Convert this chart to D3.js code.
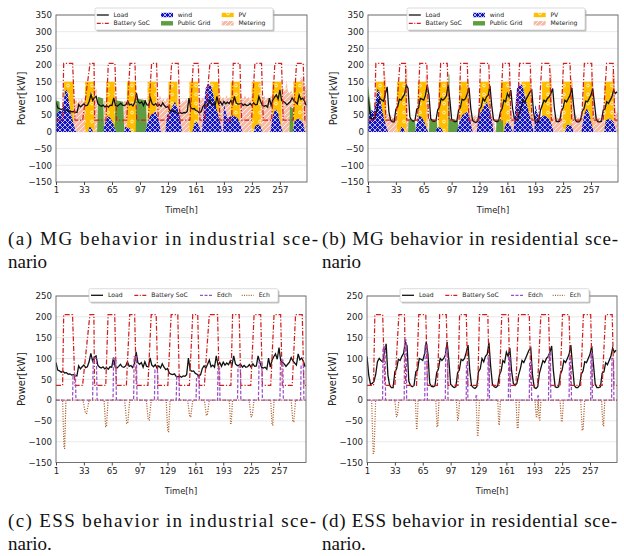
<!DOCTYPE html>
<html>
<head>
<meta charset="utf-8">
<script src="https://cdn.jsdelivr.net/npm/d3@7"></script>
<style>
  body { margin: 0; background: #fff; }
  svg { display: block; }
</style>
</head>
<body>
<div id="chart"></div>
<script>
// ---- data ----
// loads sampled every 2 hours: hour 1, 3, 5, ... 287
const loadIndustrial = [
  90,72,70,67,69,65,66,62,63,60,61,59,
  58,82,75,80,84,78,80,92,112,94,103,106,
  84,79,77,80,75,78,74,80,79,102,79,77,
  81,86,80,79,82,92,81,83,78,88,116,90,
  86,90,79,92,81,80,101,84,80,85,77,82,
  77,87,79,73,76,65,62,61,63,57,56,58,
  55,58,57,61,101,72,69,70,64,62,57,61,
  76,82,77,86,96,80,84,79,106,84,90,81,
  91,84,89,85,94,83,106,87,83,84,86,79,
  83,79,80,85,79,87,81,82,106,91,79,77,
  79,74,101,79,96,104,111,98,126,94,91,87,
  81,86,91,102,94,89,84,111,97,101,93,80
];
const loadResidential = [
  105,60,38,40,45,62,92,100,95,92,115,135,
  60,35,30,30,68,75,98,95,105,112,140,130,
  45,35,32,35,68,72,100,98,95,110,140,110,
  40,33,32,34,66,75,100,95,100,108,140,95,
  38,33,30,32,65,72,98,95,100,115,132,70,
  35,30,28,32,68,75,100,92,105,110,138,80,
  38,32,30,34,60,70,95,90,115,105,125,70,
  40,35,40,60,75,95,90,100,110,120,125,60,
  30,28,32,65,80,95,90,100,105,115,130,70,
  32,30,32,62,72,95,90,100,110,132,80,35,
  30,30,35,62,70,92,90,100,110,130,85,38,
  30,30,32,65,68,90,85,95,105,125,115,120
];

// battery SoC per day: [rise start, rise end, fall start, fall end] (hours), low 35 / high 205 kW
const socLow = 35, socHigh = 205;
const socIndustrial = [
  [8.6,9.8,20,22.7],[31.5,39.9,44.5,45.2],[58.1,60.8,68.4,70.3],[81.8,85.6,91.3,93.2],
  [106.5,110.3,116,118],[129.4,133.2,140.8,142.7],[154.1,158,163.7,165.6],[171.3,177,186.5,188.4],
  [201.8,203.7,211.3,213.2],[224.6,228.4,236,238],[247.5,251.3,258.9,260.8],[272.2,276,283.7,285.6]
];
const socResidential = [
  [8.5,10,19,21.5],[33,37.6,44,45.5],[57.8,60.4,68.5,70.5],[81.8,84.4,92,94],
  [105.4,107.3,115,116.8],[128.2,130.1,139.7,141.6],[153,155.7,163.3,165.2],[172,175,187.3,189.2],
  [196.8,200.6,209.5,211.5],[222.7,225.4,233,234.9],[246.3,249.4,257.8,259.7],[271,274.9,282.5,284.4]
];

// PV blocks [start, end] at 150 kW (same in both scenarios)
const pvCap = 150;
const pvBlocks = [
  [10,21.2],[34,45],[58,68.5],[82,92.5],[105.5,116],[129.5,140],
  [153.3,163.6],[177,187.7],[200.6,211.3],[224.6,235.3],[248.2,258.9],[272.2,282.9]
];

// wind [hour, kW]
const wind = [
  [1,0],[2,55],[5,65],[8,62],[10,95],[12,130],[14,120],[16,85],[18,55],[20,35],[22,15],[24,0],
  [38,0],[39,15],[42,12],[43,0],
  [55,0],[57,25],[60,48],[63,42],[66,28],[68,12],[70,0],
  [79,0],[80,15],[85,12],[87,0],
  [103,0],[106,30],[109,50],[112,55],[115,60],[118,40],[121,0],
  [126,0],[128,50],[131,60],[134,75],[137,90],[140,70],[143,40],[145,0],
  [157,0],[159,25],[162,30],[165,15],[167,0],
  [168,0],[170,70],[172,130],[175,145],[178,140],[181,110],[184,75],[187,45],[189,25],[191,0],
  [192,0],[193,85],[195,60],[197,40],[200,45],[203,50],[206,45],[209,40],[212,20],[214,0],
  [227,0],[229,20],[234,22],[237,0],
  [246,0],[249,50],[252,70],[255,55],[258,20],[260,0],
  [272,0],[274,35],[279,40],[283,30],[286,0],[288,0]
];

// public grid [hour, kW]
const gridIndustrial = [
  [1,95],[5,90],[6,0],
  [48,0],[49,105],[55,100],[56,0],
  [68,0],[69,95],[78,90],[79,0],
  [92,0],[93,100],[104,95],[105,0],
  [268,0],[268.5,75],[272,70],[272.5,0],[288,0]
];
const gridResidential = [
  [1,140],[3,100],[5,60],[6,0],
  [47,0],[47.5,40],[55,35],[56,0],
  [71,0],[71.5,40],[80,35],[81,0],
  [93,0],[93.5,175],[94.5,170],[95,40],[104,35],[105,0],
  [148,0],[148.5,35],[156,35],[156.5,0],[288,0]
];

// metering [hour, kW]
const meterIndustrial = [
  [1,0],[21,0],[21.2,100],[23,92],[24,98],[26,85],[27,100],[29,88],[30,102],[32,90],[34,95],[34.5,0],
  [44,0],[44.2,150],[45.5,140],[46.5,125],[47.5,130],[48.3,0],
  [55.8,0],[56,95],[58,90],[58.2,0],
  [78.8,0],[79,95],[82,90],[82.2,0],
  [116,0],[116.2,105],[118,95],[120,110],[122,92],[124,100],[126,88],[128,105],[129.5,100],[129.7,0],
  [140,0],[140.2,95],[142,105],[144,85],[146,95],[148,90],[150,100],[152,88],[153.3,95],[153.5,0],
  [163.6,0],[163.8,110],[165,100],[167,95],[169,105],[171,90],[173,100],[175,95],[177,110],[177.2,0],
  [187.7,0],[187.9,115],[190,100],[192,105],[194,95],[196,110],[198,100],[200.6,105],[200.8,0],
  [211.3,0],[211.5,120],[213,105],[215,95],[217,110],[219,100],[221,105],[223,95],[224.6,110],[224.8,0],
  [235.3,0],[235.5,115],[237,100],[239,110],[241,95],[243,105],[245,100],[247,110],[248.2,100],[248.4,0],
  [258.9,0],[259.1,140],[261,130],[263,120],[264.6,155],[266,125],[268,115],[270,125],[272.2,110],[272.4,0],
  [280,0],[280.2,160],[282,165],[284,150],[286,140],[288,120]
];
const meterResidential = [
  [1,0],[19.5,0],[19.7,170],[21.5,160],[22.5,55],[25,50],[28,45],[31,40],[34,45],[34.2,0],
  [43.5,0],[43.7,205],[46,190],[47,0],
  [67,0],[67.2,170],[69.5,160],[70.5,0],
  [91,0],[91.2,185],[93,0],
  [114.5,0],[114.7,165],[117,150],[118,55],[121,45],[124,50],[127,40],[129.5,45],[129.7,0],
  [138.5,0],[138.7,160],[141,150],[142,50],[145,45],[148,0],
  [162,0],[162.2,165],[164.5,155],[165.5,55],[168,45],[172,50],[176,40],[177,0],
  [186,0],[186.2,170],[188.5,160],[189.5,55],[193,45],[197,40],[200.6,45],[200.8,0],
  [209.5,0],[209.7,185],[212,170],[213,50],[216,45],[220,40],[224.6,45],[224.8,0],
  [233.5,0],[233.7,165],[236,150],[237,55],[241,45],[245,40],[248.2,45],[248.4,0],
  [257,0],[257.2,175],[259.5,160],[260.5,55],[264,45],[268,40],[272.2,45],[272.4,0],
  [281,0],[281.2,180],[284,175],[285,60],[288,55]
];

// discharge / charge events [start, end, kW]
const edchIndustrial = [
  [20,23.9,60],[43,48.2,100],[66.5,70.3,100],[90.1,94,104],[114,118,72],[139,142.7,56],
  [161.8,165.6,56],[186.5,189.2,76],[209.4,213.2,80],[233.4,238,92],[258.1,262,96],[281.8,285.6,84]
];
const echIndustrial = [
  [8.6,12.4,-116],[32,39,-32],[56.2,60.8,-64],[79.9,85.6,-56],[104.6,110.3,-48],[127.5,132,-76],
  [152.2,158,-40],[171.3,177,-36],[199.9,203.7,-56],[222.7,228.4,-40],[247.5,251.3,-60],[271,276,-52]
];
const edchResidential = [
  [18.9,22.3,128],[43.7,46.5,144],[67.3,70.3,132],[90.9,94,124],[114.9,116.8,88],[126,127,10],
  [139.7,141.6,104],[163.3,165.6,104],[187.3,190,92],[197,198,10],[209.4,212,112],[233,235.7,100],
  [257.8,259.7,112],[281.8,284.4,100]
];
const echResidential = [
  [6.3,10.9,-128],[33,37.6,-40],[56.6,59.7,-68],[79.9,83.7,-64],[103.5,107.3,-48],[126.3,130.1,-84],
  [151.1,154.1,-60],[172.1,175.9,-68],[193.8,197.5,-40],[197.5,200.6,-48],[222.7,226.5,-52],
  [246.3,250.9,-72],[270.3,274,-62]
];

const xTicks = [1, 33, 65, 97, 129, 161, 193, 225, 257];
const hourDomain = [1, 288];

const captions = {
  a: ['(a) MG behavior in industrial sce-', 'nario'],
  b: ['(b) MG behavior in residential sce-', 'nario'],
  c: ['(c) ESS behavior in industrial sce-', 'nario.'],
  d: ['(d) ESS behavior in residential sce-', 'nario.']
};

// ---- colours ----
const RED = '#d11f1f', PURPLE = '#9a4fc9', BROWN = '#b0602a', GREEN = '#5e9e40';

const svg = d3.select('#chart').append('svg')
  .attr('width', 624).attr('height', 556)
  .attr('font-family', 'DejaVu Sans, sans-serif');
const defs = svg.append('defs');

// hatch patterns
const pWind = defs.append('pattern').attr('id', 'hWind')
  .attr('patternUnits', 'userSpaceOnUse').attr('width', 5).attr('height', 5);
pWind.append('rect').attr('width', 5).attr('height', 5).attr('fill', '#1414c4');
pWind.append('path').attr('d', 'M0,0L5,5M5,0L0,5')
  .attr('stroke', '#fff').attr('stroke-width', 0.7);

const pPV = defs.append('pattern').attr('id', 'hPV')
  .attr('patternUnits', 'userSpaceOnUse').attr('width', 8).attr('height', 9);
pPV.append('rect').attr('width', 8).attr('height', 9).attr('fill', '#ffbf00');
pPV.append('circle').attr('cx', 4).attr('cy', 4.5).attr('r', 1.4)
  .attr('fill', 'none').attr('stroke', '#fff').attr('stroke-width', 0.7);

const pMeter = defs.append('pattern').attr('id', 'hMeter')
  .attr('patternUnits', 'userSpaceOnUse').attr('width', 5).attr('height', 5);
pMeter.append('rect').attr('width', 5).attr('height', 5).attr('fill', '#f6ae95');
pMeter.append('path').attr('d', 'M0,5L5,0M-1,1L1,-1M4,6L6,4')
  .attr('stroke', '#fff').attr('stroke-width', 0.8);

function socPoints(days) {
  const p = [[1, socLow]];
  days.forEach(t => p.push([t[0], socLow], [t[1], socHigh], [t[2], socHigh], [t[3], socLow]));
  p.push([288, socLow]);
  return p;
}
function pvPoints(blocks) {
  const p = [[1, 0]];
  blocks.forEach(b => p.push([b[0], 0], [b[0] + 0.2, pvCap], [b[1] - 0.2, pvCap], [b[1], 0]));
  p.push([288, 0]);
  return p;
}
function pulsePoints(events, topFrac) {
  const p = [[1, 0]];
  events.forEach(e => {
    const w = e[1] - e[0], m = (1 - topFrac) / 2;
    p.push([e[0], 0], [e[0] + w * m, e[2]], [e[1] - w * m, e[2]], [e[1], 0]);
  });
  p.push([288, 0]);
  return p;
}

function drawPanel(c) {
  const g = svg.append('g');
  const x = d3.scaleLinear().domain(hourDomain).range([c.x0, c.x1]);
  const y = d3.scaleLinear().domain([-150, c.yMax]).range([c.yBot, c.yTop]);
  const yTicks = d3.range(-150, c.yMax + 1, 50);
  const clipId = 'clip-' + c.name;
  defs.append('clipPath').attr('id', clipId).append('rect')
    .attr('x', c.x0).attr('y', c.yTop)
    .attr('width', c.x1 - c.x0).attr('height', c.yBot - c.yTop);

  // horizontal grid
  g.append('g').selectAll('line').data(yTicks).join('line')
    .attr('x1', c.x0).attr('x2', c.x1)
    .attr('y1', d => y(d)).attr('y2', d => y(d))
    .attr('stroke', '#e2e2e2').attr('stroke-width', 0.8);

  const plot = g.append('g').attr('clip-path', `url(#${clipId})`);
  const area = d3.area().x(d => x(d[0])).y0(y(0)).y1(d => y(d[1]));
  const line = d3.line().x(d => x(d[0])).y(d => y(d[1]));
  const loadPts = c.load.map((v, i) => [1 + 2 * i, v]);

  if (c.kind === 'mg') {
    plot.append('path').attr('d', area(c.meter)).attr('fill', 'url(#hMeter)').attr('opacity', 0.85);
    plot.append('path').attr('d', area(pvPoints(pvBlocks))).attr('fill', 'url(#hPV)');
    plot.append('path').attr('d', area(c.grid)).attr('fill', GREEN);
    plot.append('path').attr('d', area(wind)).attr('fill', 'url(#hWind)');
  }
  plot.append('path').attr('d', line(loadPts))
    .attr('fill', 'none').attr('stroke', '#111').attr('stroke-width', 1.3);
  plot.append('path').attr('d', line(socPoints(c.soc)))
    .attr('fill', 'none').attr('stroke', RED).attr('stroke-width', 1.25)
    .attr('stroke-dasharray', '5,1.8,1.2,1.8');
  if (c.kind === 'ess') {
    plot.append('path').attr('d', line(pulsePoints(c.edch, 0.7)))
      .attr('fill', 'none').attr('stroke', PURPLE).attr('stroke-width', 1.25)
      .attr('stroke-dasharray', '3.5,1.8');
    plot.append('path').attr('d', line(pulsePoints(c.ech, 0.2)))
      .attr('fill', 'none').attr('stroke', BROWN).attr('stroke-width', 1.25)
      .attr('stroke-dasharray', '1.1,1.4');
  }

  // frame
  g.append('rect').attr('x', c.x0).attr('y', c.yTop)
    .attr('width', c.x1 - c.x0).attr('height', c.yBot - c.yTop)
    .attr('fill', 'none').attr('stroke', '#666').attr('stroke-width', 0.9);

  // axes
  const ax = g.append('g').attr('transform', `translate(0,${c.yBot})`)
    .call(d3.axisBottom(x).tickValues(xTicks).tickSize(3).tickPadding(2));
  const ay = g.append('g').attr('transform', `translate(${c.x0},0)`)
    .call(d3.axisLeft(y).tickValues(yTicks).tickSize(0).tickPadding(4));
  [ax, ay].forEach(a => {
    a.select('.domain').remove();
    a.selectAll('text').attr('font-size', 8.6).attr('fill', '#222')
      .attr('font-family', 'DejaVu Sans, sans-serif');
    a.selectAll('line').attr('stroke', '#444');
  });

  g.append('text').attr('transform', `translate(${c.x0 - 34.5},${(c.yTop + c.yBot) / 2}) rotate(-90)`)
    .attr('text-anchor', 'middle').attr('dominant-baseline', 'middle')
    .attr('font-size', 10).attr('fill', '#222').text('Power[kW]');
  g.append('text').attr('x', (c.x0 + c.x1) / 2).attr('y', c.yBot + 31)
    .attr('text-anchor', 'middle').attr('font-size', 8.4).attr('fill', '#222').text('Time[h]');

  // legend
  const lg = g.append('g').attr('font-size', 6.1).attr('fill', '#222');
  const legendBox = (bx, by, bw, bh) => {
    lg.append('rect').attr('x', bx + 1.5).attr('y', by + 1.5).attr('width', bw).attr('height', bh)
      .attr('rx', 1.5).attr('fill', '#999').attr('opacity', 0.6);
    lg.append('rect').attr('x', bx).attr('y', by).attr('width', bw).attr('height', bh)
      .attr('rx', 1.5).attr('fill', '#fff').attr('stroke', '#c4c4c4').attr('stroke-width', 0.6);
  };
  const lineHandle = (hx, hy, it) => {
    lg.append('line').attr('x1', hx).attr('x2', hx + 12).attr('y1', hy).attr('y2', hy)
      .attr('stroke', it.stroke).attr('stroke-width', 1.3)
      .attr('stroke-dasharray', it.dash || null);
  };
  if (c.kind === 'mg') {
    const bx = c.x0 + 39, by = 8, bw = 178, bh = 22;
    legendBox(bx, by, bw, bh);
    const items = [
      { label: 'Load', col: 0, row: 0, stroke: '#111' },
      { label: 'Battery SoC', col: 0, row: 1, stroke: RED, dash: '4,1.5,1,1.5' },
      { label: 'wind', col: 1, row: 0, fill: 'url(#hWind)' },
      { label: 'Public Grid', col: 1, row: 1, fill: GREEN },
      { label: 'PV', col: 2, row: 0, fill: 'url(#hPV)' },
      { label: 'Metering', col: 2, row: 1, fill: 'url(#hMeter)' }
    ];
    const colX = [1.8, 66, 126.7], rowY = [7, 15.3];
    items.forEach(it => {
      const hx = bx + colX[it.col], hy = by + rowY[it.row];
      if (it.stroke) lineHandle(hx, hy, it);
      else lg.append('rect').attr('x', hx).attr('y', hy - 2.2).attr('width', 12).attr('height', 4.4)
          .attr('fill', it.fill).attr('opacity', it.label === 'Metering' ? 0.85 : 1);
      lg.append('text').attr('x', hx + 16.7).attr('y', hy).attr('dominant-baseline', 'middle').text(it.label);
    });
  } else {
    const bx = c.x0 + 33, by = c.yTop - 7.3, bw = 189, bh = 13.3;
    legendBox(bx, by, bw, bh);
    const items = [
      { label: 'Load', dx: 2, stroke: '#111' },
      { label: 'Battery SoC', dx: 45.3, stroke: RED, dash: '4,1.5,1,1.5' },
      { label: 'Edch', dx: 111, stroke: PURPLE, dash: '3,1.5' },
      { label: 'Ech', dx: 152.7, stroke: BROWN, dash: '1,1.3' }
    ];
    items.forEach(it => {
      const hx = bx + it.dx, hy = by + 6.6;
      lineHandle(hx, hy, it);
      lg.append('text').attr('x', hx + 17).attr('y', hy).attr('dominant-baseline', 'middle').text(it.label);
    });
  }

  // caption
  const cap = svg.append('g').attr('font-family', 'Liberation Serif, serif').attr('font-size', 19).attr('fill', '#111');
  cap.append('text').attr('x', c.capX).attr('y', c.capY)
    .attr('textLength', c.capW).attr('lengthAdjust', 'spacing').text(captions[c.name][0]);
  cap.append('text').attr('x', c.capX).attr('y', c.capY + 23).text(captions[c.name][1]);
}

drawPanel({ name: 'a', kind: 'mg', x0: 56, x1: 307, yTop: 15, yBot: 182, yMax: 350,
  load: loadIndustrial, soc: socIndustrial, grid: gridIndustrial, meter: meterIndustrial,
  capX: 8, capY: 245, capW: 310 });
drawPanel({ name: 'b', kind: 'mg', x0: 368, x1: 618, yTop: 15, yBot: 182, yMax: 350,
  load: loadResidential, soc: socResidential, grid: gridResidential, meter: meterResidential,
  capX: 322, capY: 245, capW: 296 });
drawPanel({ name: 'c', kind: 'ess', x0: 56, x1: 306, yTop: 296, yBot: 462.5, yMax: 250,
  load: loadIndustrial, soc: socIndustrial, edch: edchIndustrial, ech: echIndustrial,
  capX: 8, capY: 527, capW: 308 });
drawPanel({ name: 'd', kind: 'ess', x0: 367, x1: 617, yTop: 296, yBot: 462.5, yMax: 250,
  load: loadResidential, soc: socResidential, edch: edchResidential, ech: echResidential,
  capX: 322, capY: 527, capW: 295 });
</script>
</body>
</html>
